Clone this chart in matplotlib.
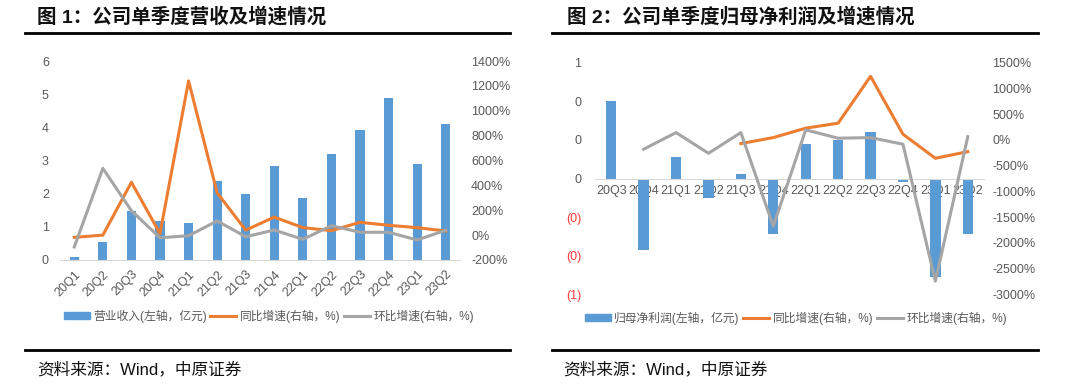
import matplotlib
matplotlib.use("Agg")
import matplotlib.pyplot as plt
from matplotlib.patches import Patch
from matplotlib.lines import Line2D
from matplotlib.ticker import FuncFormatter, MultipleLocator
import numpy as np

plt.rcParams['font.family'] = ['Liberation Sans', 'Noto Sans CJK SC', 'DejaVu Sans']

BLUE = '#5B9BD5'
ORANGE = '#ED7D31'
GRAY = '#A5A5A5'
TXT = '#595959'

# ---- Chart 1 data ----
q1 = ['20Q1', '20Q2', '20Q3', '20Q4', '21Q1', '21Q2', '21Q3', '21Q4',
      '22Q1', '22Q2', '22Q3', '22Q4', '23Q1', '23Q2']
revenue = [0.08, 0.55, 1.49, 1.17, 1.13, 2.37, 1.98, 2.83, 1.86, 3.21, 3.92, 4.89, 2.89, 4.09]
rev_yoy = [-18, 0, 425, 12, 1240, 340, 40, 145, 60, 36, 103, 79, 60, 33]
rev_qoq = [-95, 537, 196, -21, -5, 114, -13, 41, -34, 76, 23, 23, -39, 39]

# ---- Chart 2 data ----
q2 = ['20Q3', '20Q4', '21Q1', '21Q2', '21Q3', '21Q4', '22Q1', '22Q2',
      '22Q3', '22Q4', '23Q1', '23Q2']
profit = [0.40, -0.37, 0.11, -0.10, 0.023, -0.29, 0.18, 0.20, 0.24, -0.017, -0.51, -0.29]
prof_yoy = [None, None, None, None, -72, 45, 228, 325, 1235, 111, -357, -228]
prof_qoq = [None, -181, 142, -260, 142, -1677, 195, 33, 45, -84, -2744, 64]

fig = plt.figure(figsize=(10.8, 3.89), dpi=100)
W, H = 1080, 389

def fx(px):
    return px / W

def fy(py):
    return 1 - py / H

# ---------- Titles, rules, sources ----------
fig.text(fx(37), fy(17), '图 1：公司单季度营收及增速情况', fontsize=14, fontweight='bold',
         va='center', ha='left', color='#111111')
fig.text(fx(567), fy(17), '图 2：公司单季度归母净利润及增速情况', fontsize=14, fontweight='bold',
         va='center', ha='left', color='#111111')
for x0, x1 in [(25, 510), (552, 1038)]:
    for yy in (33, 350):
        fig.add_artist(Line2D([fx(x0), fx(x1)], [fy(yy), fy(yy)], color='black', lw=2))
fig.text(fx(37), fy(369), '资料来源：Wind，中原证券', fontsize=12, va='center', ha='left', color='#111111')
fig.text(fx(563), fy(369), '资料来源：Wind，中原证券', fontsize=12, va='center', ha='left', color='#111111')

# ---------- Chart 1 ----------
ax1 = fig.add_axes([fx(60), fy(260), fx(400), (260 - 61) / H])
x1 = np.arange(len(q1))
ax1.bar(x1, revenue, width=0.32, color=BLUE, zorder=2)
ax1.set_xlim(-0.5, len(q1) - 0.5)
ax1.set_ylim(0, 6)
ax1.yaxis.set_major_locator(MultipleLocator(1))
ax1.set_xticks(x1)
ax1.set_xticklabels(q1, rotation=45, ha='right', rotation_mode='anchor')
ax1.tick_params(axis='both', length=0, labelsize=9, labelcolor=TXT)
ax1.tick_params(axis='y', pad=8)
ax1.tick_params(axis='x', pad=6)
for s in ['top', 'right', 'left']:
    ax1.spines[s].set_visible(False)
ax1.spines['bottom'].set_color('#D9D9D9')
ax1.patch.set_alpha(0)

ax1b = ax1.twinx()
ax1b.plot(x1, rev_yoy, color=ORANGE, lw=2.2, zorder=3)
ax1b.plot(x1, rev_qoq, color=GRAY, lw=2.2, zorder=3)
ax1b.set_ylim(-200, 1400)
ax1b.yaxis.set_major_locator(MultipleLocator(200))
ax1b.yaxis.set_major_formatter(FuncFormatter(lambda v, p: f'{v:.0f}%'))
ax1b.tick_params(axis='y', length=0, labelsize=9, labelcolor=TXT, pad=8)
for s in ['top', 'right', 'left', 'bottom']:
    ax1b.spines[s].set_visible(False)

handles1 = [Patch(color=BLUE), Line2D([], [], color=ORANGE, lw=2.2), Line2D([], [], color=GRAY, lw=2.2)]
fig.legend(handles1, ['营业收入(左轴，亿元)', '同比增速(右轴，%)', '环比增速(右轴，%)'],
           loc='center', bbox_to_anchor=(fx(269), fy(316)), ncol=3, frameon=False,
           fontsize=8.5, labelcolor=TXT, handlelength=2.2, handleheight=0.6,
           columnspacing=0.3, handletextpad=0.3, borderpad=0)

# ---------- Chart 2 ----------
ax2 = fig.add_axes([fx(595), fy(294.3), fx(389), (294.3 - 62.7) / H])
x2 = np.arange(len(q2))
ax2.bar(x2, profit, width=0.32, color=BLUE, zorder=2)
ax2.set_xlim(-0.5, len(q2) - 0.5)
ax2.set_ylim(-0.6, 0.6)
ax2.yaxis.set_major_locator(MultipleLocator(0.2))

def acc_fmt(v, p):
    r = abs(round(v))
    return f'({r})' if v < -1e-9 else f'{r}'

ax2.yaxis.set_major_formatter(FuncFormatter(acc_fmt))
ax2.set_xticks(x2)
ax2.set_xticklabels(q2)
ax2.tick_params(axis='both', length=0, labelsize=9, labelcolor=TXT)
ax2.tick_params(axis='y', pad=10)
ax2.tick_params(axis='x', pad=5)
for s in ['top', 'right', 'left']:
    ax2.spines[s].set_visible(False)
ax2.spines['bottom'].set_position(('data', 0))
ax2.spines['bottom'].set_color('#D9D9D9')
ax2.patch.set_alpha(0)
fig.canvas.draw()
for lab in ax2.get_yticklabels():
    if lab.get_text().startswith('('):
        lab.set_color('#FF3B3B')

ax2b = ax2.twinx()
yoy2 = np.array([np.nan if v is None else v for v in prof_yoy], dtype=float)
qoq2 = np.array([np.nan if v is None else v for v in prof_qoq], dtype=float)
ax2b.plot(x2, yoy2, color=ORANGE, lw=2.2, zorder=3)
ax2b.plot(x2, qoq2, color=GRAY, lw=2.2, zorder=3)
ax2b.set_ylim(-3000, 1500)
ax2b.yaxis.set_major_locator(MultipleLocator(500))
ax2b.yaxis.set_major_formatter(FuncFormatter(lambda v, p: f'{v:.0f}%'))
ax2b.tick_params(axis='y', length=0, labelsize=9, labelcolor=TXT, pad=6)
for s in ['top', 'right', 'left', 'bottom']:
    ax2b.spines[s].set_visible(False)

handles2 = [Patch(color=BLUE), Line2D([], [], color=ORANGE, lw=2.2), Line2D([], [], color=GRAY, lw=2.2)]
fig.legend(handles2, ['归母净利润(左轴，亿元)', '同比增速(右轴，%)', '环比增速(右轴，%)'],
           loc='center', bbox_to_anchor=(fx(796), fy(318)), ncol=3, frameon=False,
           fontsize=8.5, labelcolor=TXT, handlelength=2.2, handleheight=0.6,
           columnspacing=0.3, handletextpad=0.3, borderpad=0)

fig.savefig('out.png', dpi=100)
